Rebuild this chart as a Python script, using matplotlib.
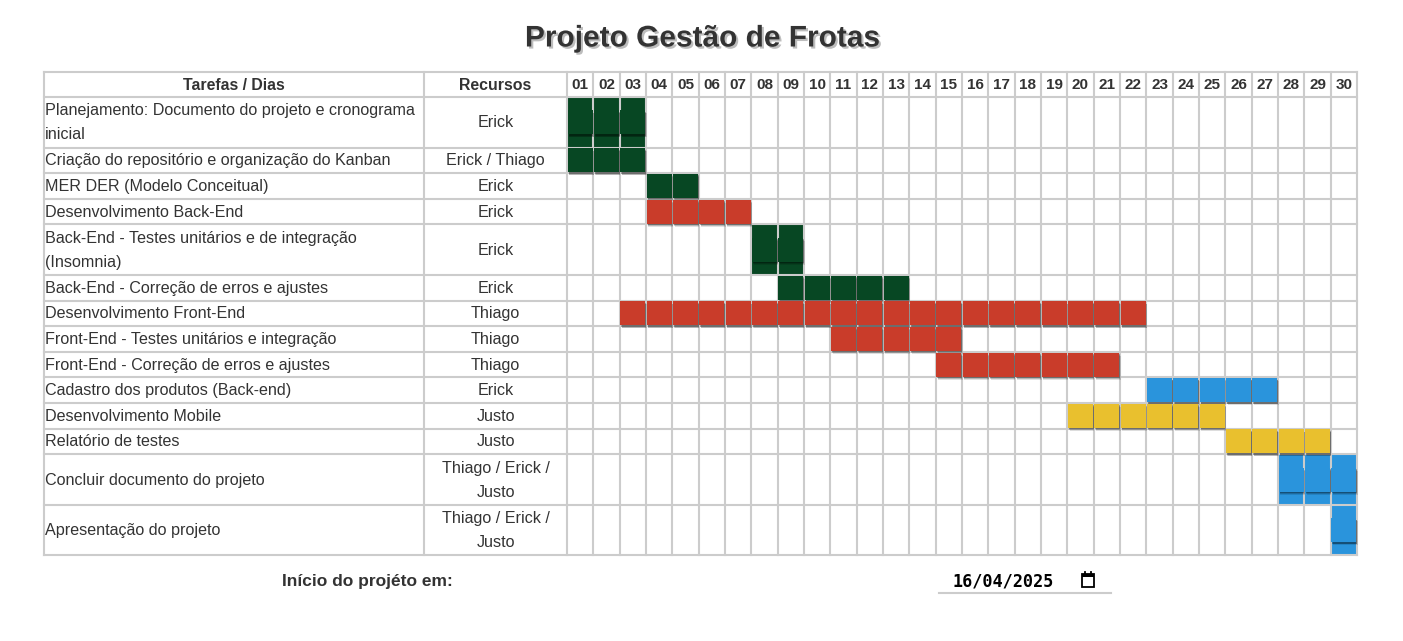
import matplotlib.pyplot as plt
import matplotlib.patheffects as pe
from matplotlib.patches import Rectangle

plt.rcParams["font.family"] = ["Liberation Sans", "DejaVu Sans"]

# dados do cronograma
tasks = [
    "Planejamento: Documento do projeto e cronograma\ninicial",
    "Criação do repositório e organização do Kanban",
    "MER DER (Modelo Conceitual)",
    "Desenvolvimento Back-End",
    "Back-End - Testes unitários e de integração\n(Insomnia)",
    "Back-End - Correção de erros e ajustes",
    "Desenvolvimento Front-End",
    "Front-End - Testes unitários e integração",
    "Front-End - Correção de erros e ajustes",
    "Cadastro dos produtos (Back-end)",
    "Desenvolvimento Mobile",
    "Relatório de testes",
    "Concluir documento do projeto",
    "Apresentação do projeto",
]
resources = [
    "Erick", "Erick / Thiago", "Erick", "Erick", "Erick", "Erick",
    "Thiago", "Thiago", "Thiago", "Erick", "Justo", "Justo",
    "Thiago / Erick /\nJusto", "Thiago / Erick /\nJusto",
]
start_day = [1, 1, 4, 4, 8, 9, 3, 11, 15, 23, 20, 26, 28, 30]
end_day = [3, 3, 5, 7, 9, 13, 22, 15, 21, 27, 25, 29, 30, 30]
phase = ["green", "green", "green", "red", "green", "green", "red", "red",
         "red", "blue", "yellow", "yellow", "blue", "blue"]
days = [f"{d:02d}" for d in range(1, 31)]
start_date = "16/04/2025"

colors = {"green": "#074723", "red": "#c93c2a", "yellow": "#e9c02e", "blue": "#2a94dc"}

# layout (pixels)
W, H = 1403, 641
left = 44
task_w = 380
res_w = 143
day_w = (1357 - left - task_w - res_w) / len(days)
top = 72
header_h = 25
line_h = 25.6
grid_c = "#cccccc"
text_c = "#333333"
lw_grid = 1.5

fig = plt.figure(figsize=(W / 100, H / 100), dpi=100)
ax = fig.add_axes([0, 0, 1, 1])
ax.set_xlim(0, W)
ax.set_ylim(H, 0)
ax.axis("off")

# titulo
ax.text(W / 2 + 1, 38.5, "Projeto Gestão de Frotas", ha="center", va="center",
        fontsize=21.5, fontweight="bold", color=text_c,
        path_effects=[pe.withSimplePatchShadow(offset=(1.5, -1.5), shadow_rgbFace="#888888", alpha=0.55)])

# alturas das linhas a partir do numero de linhas de texto
n_lines = [max(t.count("\n"), r.count("\n")) + 1 for t, r in zip(tasks, resources)]
row_h = [n * line_h - (n - 1) * 0.6 for n in n_lines]
row_top = [top + header_h]
for h in row_h[:-1]:
    row_top.append(row_top[-1] + h)
bottom = row_top[-1] + row_h[-1]
day_x0 = left + task_w + res_w
right = day_x0 + day_w * len(days)

# celulas preenchidas
for i in range(len(tasks)):
    y0, h = row_top[i], row_h[i]
    c = colors[phase[i]]
    for d in range(start_day[i], end_day[i] + 1):
        x0 = day_x0 + (d - 1) * day_w
        ax.add_patch(Rectangle((x0, y0), day_w, h, color=c, zorder=1, lw=0))
        bh = min(24, h - 1.5)
        by = y0 + (h - bh) / 2
        for k, a in [(3.0, 0.12), (2.2, 0.18), (1.4, 0.25)]:
            ax.add_patch(Rectangle((x0 + 0.8 + k * 0.5, by + k), day_w - 1.6, bh,
                                   color="black", alpha=a, lw=0, zorder=3))
    for d in range(start_day[i], end_day[i] + 1):
        x0 = day_x0 + (d - 1) * day_w
        bh = min(24, h - 1.5)
        by = y0 + (h - bh) / 2
        ax.add_patch(Rectangle((x0 + 0.8, by), day_w - 1.6, bh, color=c, lw=0, zorder=4))

# grade
ys = [top, top + header_h] + [rt + rh for rt, rh in zip(row_top, row_h)]
for y in ys:
    ax.plot([left, right], [y, y], color=grid_c, lw=lw_grid, zorder=2, solid_capstyle="projecting")
xs = [left, left + task_w, day_x0] + [day_x0 + (d + 1) * day_w for d in range(len(days))]
for x in xs:
    ax.plot([x, x], [top, bottom], color=grid_c, lw=lw_grid, zorder=2, solid_capstyle="projecting")

# cabecalho
hy = top + header_h / 2 + 0.5
ax.text(left + task_w / 2, hy, "Tarefas / Dias", ha="center", va="center",
        fontsize=11.4, fontweight="bold", color=text_c, zorder=5)
ax.text(left + task_w + res_w / 2, hy, "Recursos", ha="center", va="center",
        fontsize=11.4, fontweight="bold", color=text_c, zorder=5)
for j, lab in enumerate(days):
    ax.text(day_x0 + (j + 0.5) * day_w, hy, lab, ha="center", va="center",
            fontsize=11, fontweight="bold", color=text_c, zorder=5)

# textos das linhas
for i in range(len(tasks)):
    y0, h = row_top[i], row_h[i]
    for txt, x, ha in [(tasks[i], left + 1, "left"), (resources[i], left + task_w + res_w / 2, "center")]:
        parts = txt.split("\n")
        mid = y0 + h / 2 + 0.5
        for k, p in enumerate(parts):
            yy = mid + (k - (len(parts) - 1) / 2) * 24
            ax.text(x, yy, p, ha=ha, va="center", fontsize=11.6, color=text_c, zorder=5)

# data de inicio
ax.text(367, 581.5, "Início do projéto em:", ha="center", va="center",
        fontsize=12.5, fontweight="bold", color=text_c)
ax.text(953, 581.5, start_date, ha="left", va="center", fontsize=12.2,
        family="DejaVu Sans Mono", fontweight="bold", color="black")
ax.plot([939, 1111], [593, 593], color=grid_c, lw=1.5)
ax.add_patch(Rectangle((1082, 574), 12, 13, fill=False, ec="black", lw=1.3))
ax.add_patch(Rectangle((1082, 574), 12, 3, color="black", lw=0))
ax.plot([1085, 1085], [572, 575], color="black", lw=1.3)
ax.plot([1091, 1091], [572, 575], color="black", lw=1.3)

fig.savefig("out.png", dpi=100)
plt.close(fig)
